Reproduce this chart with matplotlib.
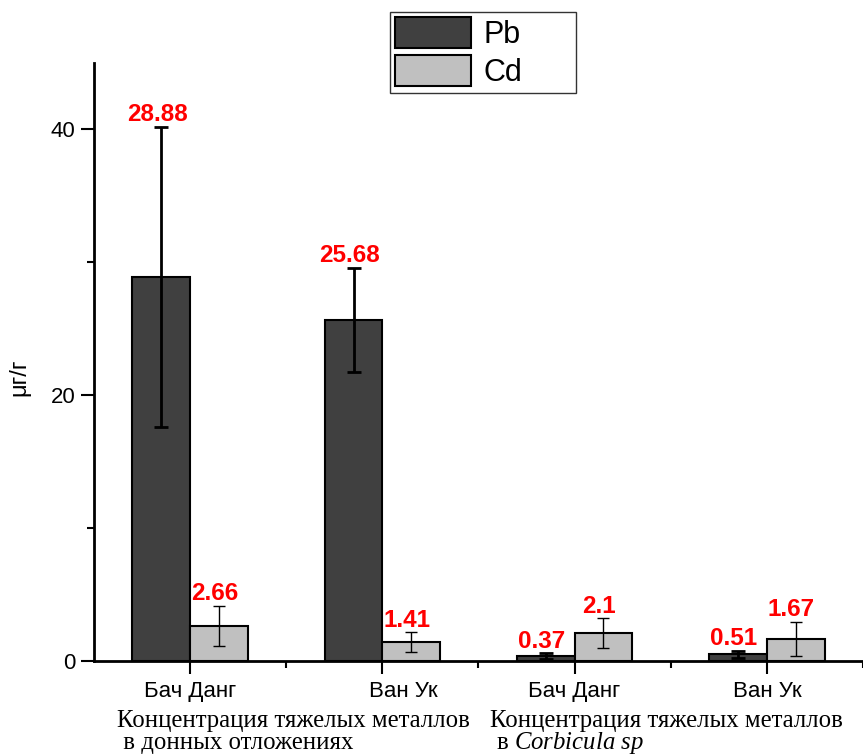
import numpy as np
import matplotlib
matplotlib.use("Agg")
import matplotlib.pyplot as plt
from matplotlib.transforms import ScaledTranslation

plt.rcParams['font.family'] = ['Liberation Sans', 'DejaVu Sans']
plt.rcParams['mathtext.fontset'] = 'custom'
plt.rcParams['mathtext.rm'] = 'Liberation Serif'
plt.rcParams['mathtext.it'] = 'Liberation Serif:italic'

# data
sites = ["Бач Данг", "Ван Ук", "Бач Данг", "Ван Ук"]
pb = [28.88, 25.68, 0.37, 0.51]
pb_err = [11.3, 3.9, 0.2, 0.25]
cd = [2.66, 1.41, 2.1, 1.67]
cd_err = [1.5, 0.75, 1.1, 1.3]
groups = [("Концентрация тяжелых металлов", " в донных отложениях"),
          ("Концентрация тяжелых металлов", r" в $\mathit{Corbicula\ sp}$")]

x = np.arange(1, len(sites) + 1)
w = 0.3

fig = plt.figure(figsize=(8.63, 7.55), dpi=100)
ax = fig.add_axes([0.1089, 0.1245, 0.8911, 0.7921])

b1 = ax.bar(x - w/2, pb, w, color="#404040", edgecolor="black", linewidth=1.5,
            label="Pb", zorder=2)
b2 = ax.bar(x + w/2, cd, w, color="#c0c0c0", edgecolor="black", linewidth=1.5,
            label="Cd", zorder=2)
ax.errorbar(x - w/2, pb, yerr=pb_err, fmt="none", ecolor="black",
            elinewidth=2, capsize=5, capthick=2, zorder=3)
ax.errorbar(x + w/2, cd, yerr=cd_err, fmt="none", ecolor="black",
            elinewidth=1, capsize=4.5, capthick=1, zorder=3)

# red value labels above the error bars
for xs, vals, errs in [(x - w/2, pb, pb_err), (x + w/2, cd, cd_err)]:
    for xi, v, e in zip(xs, vals, errs):
        ax.annotate("{:g}".format(v), (xi, v + e), xytext=(-3, 4),
                    textcoords="offset points", ha="center", va="baseline",
                    color="red", fontsize=17.5, fontweight="bold")

ax.set_xlim(0.5, 4.445)
ax.set_ylim(0, 45)
ax.set_yticks([0, 20, 40])
ax.set_yticks([10, 30], minor=True)
ax.set_xticks(x, sites)
ax.set_xticks(x + 0.5, minor=True)
ax.tick_params(axis="both", which="major", direction="out", length=9.5,
               width=1.5, labelsize=16, pad=4)
ax.tick_params(axis="both", which="minor", direction="out", length=5, width=1.5)
ax.tick_params(axis="x", which="major", pad=5)

for s in ["top", "right"]:
    ax.spines[s].set_visible(False)
for s in ["left", "bottom"]:
    ax.spines[s].set_linewidth(2)

# the second category label sits a bit to the right in the original
lab = ax.get_xticklabels()[1]
lab.set_transform(lab.get_transform() + ScaledTranslation(15/72, 0, fig.dpi_scale_trans))

ax.set_ylabel("μг/г", fontsize=17)
ax.yaxis.set_label_coords(-0.0832, 0.475)

# group captions under the axis
for (l1, l2), x0 in zip(groups, [117/863, 490/863]):
    fig.text(x0, 0.0371, l1, family="Liberation Serif", fontsize=17.8, va="baseline")
    fig.text(x0, 0.0085, l2, family="Liberation Serif", fontsize=17.8, va="baseline")

leg = ax.legend(handles=[b1, b2], loc="upper left",
                bbox_to_anchor=(390/863, 1 - 94/755, 186/863, 82/755),
                bbox_transform=fig.transFigure, mode="expand",
                fontsize=22, frameon=True, fancybox=False, shadow=False,
                handlelength=2.5, handleheight=1.2, handletextpad=0.4,
                labelspacing=0.18, borderpad=0.15, borderaxespad=0)
leg.get_frame().set_edgecolor("black")
leg.get_frame().set_linewidth(1)

fig.savefig("out.png", dpi=100)
